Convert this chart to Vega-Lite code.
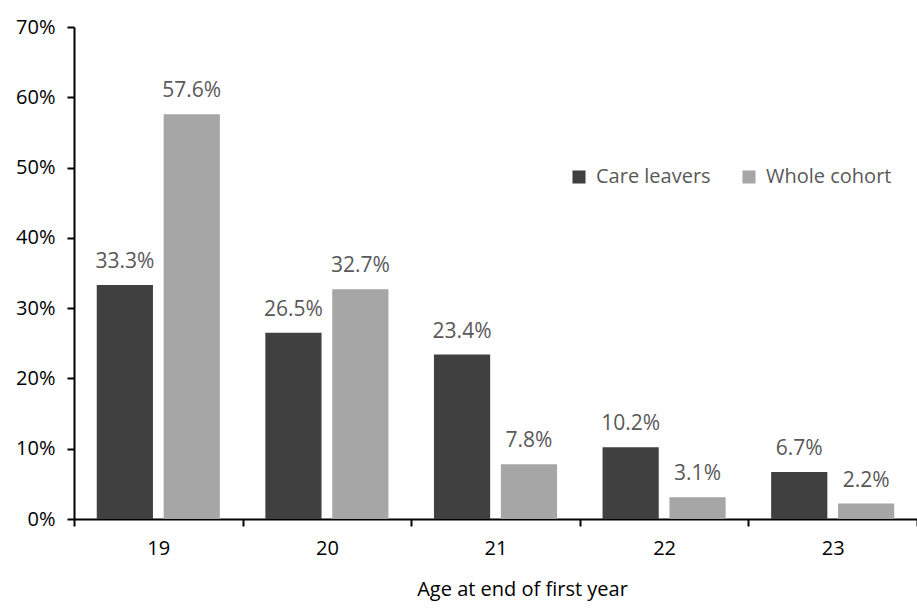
{
  "$schema": "https://vega.github.io/schema/vega-lite/v6.json",
  "width": 843,
  "height": 492,
  "autosize": {"type": "none"},
  "padding": {"left": 74, "top": 27, "right": 0, "bottom": 89},
  "background": "white",
  "config": {"view": {"stroke": null}, "font": "Open Sans"},
  "data": {"values": [
    {"age": "19", "group": "Care leavers", "value": 0.333},
    {"age": "19", "group": "Whole cohort", "value": 0.576},
    {"age": "20", "group": "Care leavers", "value": 0.265},
    {"age": "20", "group": "Whole cohort", "value": 0.327},
    {"age": "21", "group": "Care leavers", "value": 0.234},
    {"age": "21", "group": "Whole cohort", "value": 0.078},
    {"age": "22", "group": "Care leavers", "value": 0.102},
    {"age": "22", "group": "Whole cohort", "value": 0.031},
    {"age": "23", "group": "Care leavers", "value": 0.067},
    {"age": "23", "group": "Whole cohort", "value": 0.022}
  ]},
  "encoding": {
    "x": {
      "field": "age", "type": "nominal",
      "scale": {"paddingInner": 0, "paddingOuter": 0},
      "axis": {
        "title": "Age at end of first year", "labelAngle": 0,
        "tickBand": "extent", "tickSize": 7, "tickColor": "black", "tickWidth": 2,
        "domainColor": "black", "domainWidth": 2,
        "labelFontSize": 20, "labelColor": "black", "labelPadding": 12,
        "titleFontSize": 20, "titleFontWeight": "normal", "titleColor": "black", "titlePadding": 21,
        "titleX": 448
      }
    },
    "xOffset": {"field": "group", "type": "nominal", "scale": {"paddingInner": 0.16, "paddingOuter": 0.34}},
    "y": {
      "field": "value", "type": "quantitative",
      "scale": {"domain": [0, 0.7], "nice": false},
      "axis": {
        "title": null, "format": ".0%", "values": [0, 0.1, 0.2, 0.3, 0.4, 0.5, 0.6, 0.7],
        "grid": false, "tickSize": 7, "tickColor": "black", "tickWidth": 2,
        "domainColor": "black", "domainWidth": 2,
        "labelFontSize": 20, "labelColor": "black", "labelPadding": 12
      }
    }
  },
  "layer": [
    {
      "mark": {"type": "bar"},
      "encoding": {
        "color": {
          "field": "group", "type": "nominal",
          "scale": {"domain": ["Care leavers", "Whole cohort"], "range": ["#404040", "#A6A6A6"]},
          "legend": {
            "title": null, "orient": "none", "direction": "horizontal",
            "legendX": 495, "legendY": 140,
            "symbolType": "square", "symbolSize": 170, "symbolStrokeWidth": 0,
            "labelFontSize": 20, "labelColor": "#595959", "columnPadding": 28, "labelOffset": 7
          }
        }
      }
    },
    {
      "mark": {"type": "text", "baseline": "alphabetic", "dy": -17, "fontSize": 21, "color": "#595959"},
      "encoding": {"text": {"field": "value", "type": "quantitative", "format": ".1%"}}
    }
  ]
}
